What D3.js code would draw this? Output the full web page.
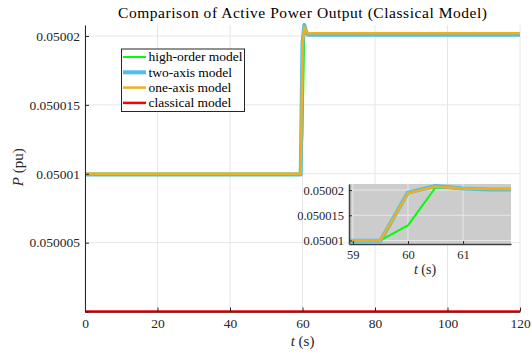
<!DOCTYPE html>
<html>
<head>
<meta charset="utf-8">
<script src="https://cdn.jsdelivr.net/npm/d3@7"></script>
<style>
  html, body { margin: 0; padding: 0; background: #fff; }
  svg { display: block; }
  svg text { font-family: "Liberation Serif", serif; }
</style>
</head>
<body>
<svg id="chart" width="532" height="359"></svg>
<script>
// Time samples (s) and active power (pu) of each machine model
const time = [0, 59.5, 60, 60.5, 61, 61.5, 62, 120];
const highOrder = [0.05001, 0.05001, 0.050013, 0.0500205, 0.0500203, 0.0500202, 0.0500202, 0.0500202];
const twoAxis   = [0.05000995, 0.05000995, 0.0500195, 0.0500208, 0.0500203, 0.0500201, 0.0500201, 0.0500201];
const oneAxis   = [0.05001, 0.05001, 0.0500194, 0.0500207, 0.0500203, 0.0500202, 0.0500202, 0.0500202];
const classicalTime = [0, 120];
const classical = [0.05, 0.05];

const seriesNames = ["high-order model", "two-axis model", "one-axis model", "classical model"];
const seriesColors = ["#00ff00", "#4dbeee", "#edb120", "#ff0000"];
const seriesWidths = [2, 4, 2.5, 2.5];

const xTicks = [0, 20, 40, 60, 80, 100, 120];
const yTicks = [0.05, 0.050005, 0.05001, 0.050015, 0.05002];
const yTickLabels = ["", "0.050005", "0.05001", "0.050015", "0.05002"];
const insetXTicks = [59, 60, 61];
const insetYTicks = [0.05001, 0.050015, 0.05002];
const insetYTickLabels = ["0.05001", "0.050015", "0.05002"];

const series = [
  { t: time, v: highOrder },
  { t: time, v: twoAxis },
  { t: time, v: oneAxis },
  { t: classicalTime, v: classical }
].map((s, i) => ({ ...s, name: seriesNames[i], color: seriesColors[i], width: seriesWidths[i] }));

const svg = d3.select("#chart");
const axisColor = "#262626";
const gridColor = "#e6e6e6";
const serif = '"Liberation Serif", serif';

// ---- main axes ----
const M = { left: 85, right: 520, top: 25, bottom: 311.5 };
const x = d3.scaleLinear().domain([0, 120]).range([M.left, M.right]);
const y = d3.scaleLinear().domain([0.05, 0.0500208]).range([M.bottom, M.top]);

const defs = svg.append("defs");
defs.append("clipPath").attr("id", "mainClip")
  .append("rect").attr("x", M.left).attr("y", M.top - 2)
  .attr("width", M.right - M.left + 2).attr("height", M.bottom - M.top + 4);

// grid
const grid = svg.append("g");
grid.selectAll(".gx").data(xTicks).join("line")
  .attr("x1", d => x(d)).attr("x2", d => x(d))
  .attr("y1", M.top).attr("y2", M.bottom)
  .attr("stroke", gridColor).attr("stroke-width", 1);
grid.selectAll(".gy").data(yTicks).join("line")
  .attr("x1", M.left).attr("x2", M.right)
  .attr("y1", d => y(d)).attr("y2", d => y(d))
  .attr("stroke", gridColor).attr("stroke-width", 1);

const line = (sx, sy) => d3.line().x(d => sx(d[0])).y(d => sy(d[1]));

function drawSeries(g, sx, sy, clipId) {
  g.append("g").attr("clip-path", `url(#${clipId})`)
    .selectAll("path").data(series).join("path")
    .attr("d", s => line(sx, sy)(s.t.map((t, i) => [t, s.v[i]])))
    .attr("fill", "none")
    .attr("stroke", s => s.color)
    .attr("stroke-width", s => s.width)
    .attr("stroke-linejoin", "round");
}
drawSeries(svg, x, y, "mainClip");

// axes
const xAxis = d3.axisBottom(x).tickValues(xTicks).tickSizeInner(-4).tickSizeOuter(0).tickPadding(7);
const yAxis = d3.axisLeft(y).tickValues(yTicks).tickFormat((d, i) => yTickLabels[i]).tickSizeInner(-4).tickSizeOuter(0).tickPadding(5);

function styleAxis(g, fs) {
  g.attr("font-family", serif).attr("font-size", fs);
  g.select(".domain").attr("stroke", axisColor).attr("stroke-width", 1);
  g.selectAll(".tick line").attr("stroke", axisColor);
  g.selectAll(".tick text").attr("fill", "#262626");
}
svg.append("g").attr("transform", `translate(0,${M.bottom})`).call(xAxis).call(g => styleAxis(g, 13.5));
svg.append("g").attr("transform", `translate(${M.left},0)`).call(yAxis).call(g => styleAxis(g, 13.5));

// title & labels
svg.append("text").attr("x", (M.left + M.right) / 2).attr("y", 18)
  .attr("text-anchor", "middle").style("font-size", "15.5px").attr("fill", "#000")
  .attr("textLength", 369).attr("lengthAdjust", "spacing")
  .text("Comparison of Active Power Output (Classical Model)");

const xl = svg.append("text").attr("x", (M.left + M.right) / 2).attr("y", 346)
  .attr("text-anchor", "middle").style("font-size", "15px").attr("fill", "#262626");
xl.append("tspan").style("font-style", "italic").text("t");
xl.append("tspan").text(" (s)");

const yl = svg.append("text").attr("transform", `translate(23,${(M.top + M.bottom) / 2 - 1}) rotate(-90)`)
  .attr("text-anchor", "middle").style("font-size", "15px").attr("fill", "#262626");
yl.append("tspan").style("font-style", "italic").text("P");
yl.append("tspan").text(" (pu)");

// ---- legend ----
const L = { x: 121.5, y: 49, w: 123, h: 62.5 };
const lg = svg.append("g");
lg.append("rect").attr("x", L.x).attr("y", L.y).attr("width", L.w).attr("height", L.h)
  .attr("fill", "#fff").attr("stroke", "#262626").attr("stroke-width", 1);
const rows = lg.selectAll(".row").data(series).join("g")
  .attr("transform", (d, i) => `translate(${L.x},${L.y + 8 + i * 15.3})`);
rows.append("line").attr("x1", 1.5).attr("x2", 24.5)
  .attr("stroke", d => d.color).attr("stroke-width", d => d.width);
rows.append("text").attr("x", 27).attr("dy", "0.33em")
  .style("font-size", "13.5px").attr("fill", "#000").text(d => d.name);

// ---- inset ----
const I = { left: 349, right: 511, top: 184, bottom: 244 };
const ix = d3.scaleLinear().domain([58.93, 61.87]).range([I.left, I.right]);
const iy = d3.scaleLinear().domain([0.0500093, 0.0500212]).range([I.bottom, I.top]);

const ins = svg.append("g");
ins.append("rect").attr("x", I.left).attr("y", I.top)
  .attr("width", I.right - I.left).attr("height", I.bottom - I.top).attr("fill", "#cccccc");
defs.append("clipPath").attr("id", "insetClip")
  .append("rect").attr("x", I.left).attr("y", I.top)
  .attr("width", I.right - I.left).attr("height", I.bottom - I.top);

ins.selectAll(".igx").data(insetXTicks).join("line")
  .attr("x1", d => ix(d)).attr("x2", d => ix(d)).attr("y1", I.top).attr("y2", I.bottom)
  .attr("stroke", "#e8e8e8").attr("stroke-width", 1);
ins.selectAll(".igy").data(insetYTicks).join("line")
  .attr("x1", I.left).attr("x2", I.right).attr("y1", d => iy(d)).attr("y2", d => iy(d))
  .attr("stroke", "#e8e8e8").attr("stroke-width", 1);

drawSeries(ins, ix, iy, "insetClip");

const ixAxis = d3.axisBottom(ix).tickValues(insetXTicks).tickFormat(d3.format("d"))
  .tickSizeInner(-3).tickSizeOuter(0).tickPadding(6);
const iyAxis = d3.axisLeft(iy).tickValues(insetYTicks).tickFormat((d, i) => insetYTickLabels[i])
  .tickSizeInner(-3).tickSizeOuter(0).tickPadding(5);
ins.append("g").attr("transform", `translate(0,${I.bottom})`).call(ixAxis).call(g => styleAxis(g, 12.5));
ins.append("g").attr("transform", `translate(${I.left},0)`).call(iyAxis).call(g => styleAxis(g, 12.5));
ins.selectAll(".domain").attr("stroke-width", 1.5).attr("stroke", "#404040");

const ixl = ins.append("text").attr("x", 425).attr("y", 274)
  .attr("text-anchor", "middle").style("font-size", "14px").attr("fill", "#262626");
ixl.append("tspan").style("font-style", "italic").text("t");
ixl.append("tspan").text(" (s)");
</script>
</body>
</html>
